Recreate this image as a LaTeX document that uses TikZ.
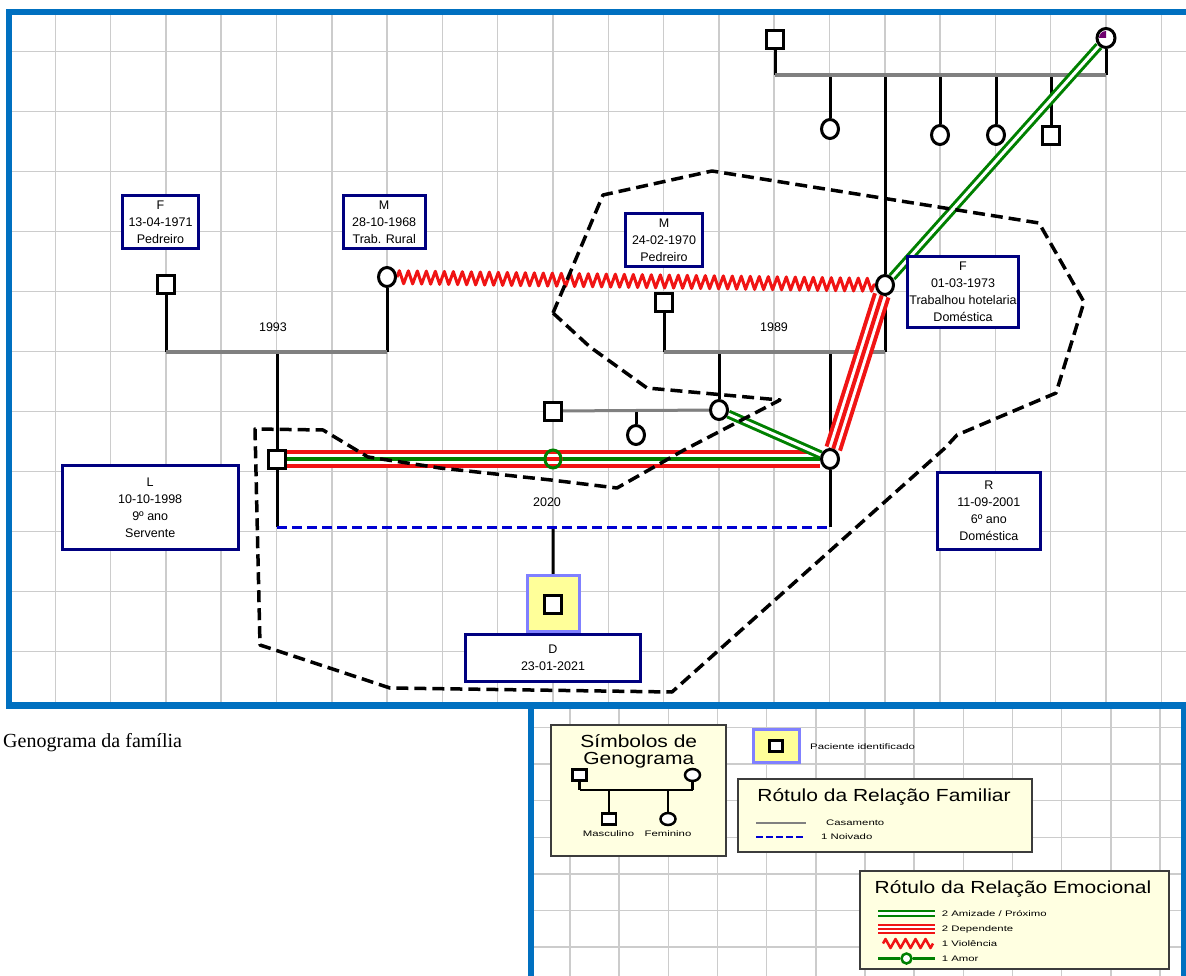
\documentclass[tikz,border=0pt]{standalone}
\usepackage{fontspec}
\setmainfont{Liberation Sans}
\newfontfamily\capfont{Liberation Serif}
\newfontfamily\legtitlefont[FakeStretch=1.2]{Liberation Sans}
\newfontfamily\legsmallfont[FakeStretch=1.42]{Liberation Sans}
\usetikzlibrary{decorations.pathmorphing,shapes.geometric}
\pgfdeclarelayer{gridlayer}
\pgfdeclarelayer{links}
\pgfsetlayers{gridlayer,links,main}
\definecolor{frameblue}{RGB}{0,112,192}
\definecolor{gridgray}{RGB}{204,204,204}
\definecolor{boxnavy}{RGB}{0,0,128}
\definecolor{marrygray}{RGB}{128,128,128}
\definecolor{relred}{RGB}{240,20,20}
\definecolor{relgreen}{RGB}{0,128,0}
\definecolor{engblue}{RGB}{0,0,210}
\definecolor{piyellow}{RGB}{255,255,153}
\definecolor{piborder}{RGB}{128,128,255}
\definecolor{legfill}{RGB}{255,255,225}
\definecolor{legborder}{RGB}{60,60,60}
\definecolor{markpurple}{RGB}{110,0,110}
\tikzset{
  gridline/.style={draw=gridgray, line width=1.5pt},
  frameline/.style={draw=frameblue},
  male/.style={rectangle, draw=black, line width=3pt, fill=white, minimum width=17pt, minimum height=18pt, inner sep=0pt},
  female/.style={ellipse, draw=black, line width=3pt, fill=white, minimum width=17pt, minimum height=19pt, inner sep=0pt},
  infobox/.style={rectangle, draw=boxnavy, line width=3pt, fill=white, inner sep=0pt, align=center, font=\fontsize{12.5}{17}\selectfont},
  yrlabel/.style={font=\fontsize{12.5}{15}\selectfont, inner sep=0pt},
  kin/.style={draw=black, line width=3pt},
  marriage/.style={draw=marrygray, line width=3.5pt},
  engaged/.style={draw=engblue, line width=3pt, dash pattern=on 10pt off 5pt},
  violence/.style={draw=relred, line width=3pt, line join=round, decorate, decoration={zigzag, segment length=9pt, amplitude=6.5pt}},
  dependent/.style={draw=relred, line width=18pt, postaction={draw=white, line width=10pt}, postaction={draw=relred, line width=4pt}},
  friends/.style={draw=relgreen, line width=3pt, double=white, double distance=3pt},
  love/.style={draw=relgreen, line width=4pt},
  lovering/.style={ellipse, draw=relgreen, line width=3pt, minimum width=16pt, minimum height=18pt, inner sep=0pt},
  boundary/.style={draw=black, line width=3.5pt, dash pattern=on 12pt off 6pt, line join=round},
  pibox/.style={rectangle, draw=piborder, line width=3pt, fill=piyellow, inner sep=0pt},
  legbox/.style={rectangle, draw=legborder, line width=1.5pt, fill=legfill, inner sep=0pt},
  legtitle/.style={font=\legtitlefont\fontsize{17.5}{20}\selectfont, inner sep=0pt},
  legtext/.style={font=\legsmallfont\fontsize{8}{10}\selectfont, inner sep=0pt},
  smallmale/.style={rectangle, draw=black, line width=2.5pt, fill=white, minimum width=14pt, minimum height=11pt, inner sep=0pt},
  smallfemale/.style={ellipse, draw=black, line width=2.5pt, fill=white, minimum width=15pt, minimum height=12pt, inner sep=0pt},
  smallkin/.style={draw=black, line width=2.5pt}
}
\begin{document}
\begin{tikzpicture}[x=1pt,y=-1pt]
\useasboundingbox (0,0) rectangle (1186,976);
% ---------- grid and frames ----------
\begin{pgfonlayer}{gridlayer}
  \foreach \k in {1,...,21} \draw[gridline] ({55.3*\k},12) -- ({55.3*\k},705);
  \foreach \j in {0,...,10} \draw[gridline] (9,{51.7+60*\j}) -- (1186,{51.7+60*\j});
  \foreach \m in {0,...,12} \draw[gridline] ({570+49.17*\m},705) -- ({570+49.17*\m},976);
  \foreach \n in {0,...,6} \draw[gridline] (531,{727.5+36.6*\n}) -- (1184,{727.5+36.6*\n});
  \draw[frameline, line width=6pt] (9,708) -- (9,12) -- (1186,12);
  \draw[frameline, line width=7pt] (6,705) -- (1186,705);
  \draw[frameline, line width=6pt] (531,702) -- (531,976);
  \draw[frameline, line width=5pt] (1183.5,702) -- (1183.5,976);
\end{pgfonlayer}

% ---------- caption ----------
\node[anchor=base west, inner sep=0pt, font=\capfont\fontsize{20}{24}\selectfont] (caption) at (3,747) {Genograma da família};

% ---------- info boxes ----------
\node[infobox, minimum width=76pt, minimum height=53pt] (bF) at (160.5,222) {F\\13-04-1971\\Pedreiro};
\node[infobox, minimum width=82pt, minimum height=53pt] (bM) at (384.2,222) {M\\28-10-1968\\Trab. Rural};
\node[infobox, minimum width=77pt, minimum height=53pt] (bM2) at (664,240) {M\\24-02-1970\\Pedreiro};
\node[infobox, minimum width=111pt, minimum height=71pt] (bF2) at (963,292) {F\\01-03-1973\\Trabalhou hotelaria\\Doméstica};
\node[infobox, minimum width=176pt, minimum height=84pt] (bL) at (150.2,507.5) {L\\10-10-1998\\9º ano\\Servente};
\node[infobox, minimum width=103pt, minimum height=77pt] (bR) at (988.8,511) {R\\11-09-2001\\6º ano\\Doméstica};
\node[infobox, minimum width=175pt, minimum height=47pt] (bD) at (553,658) {D\\23-01-2021};
\node[pibox, minimum width=52pt, minimum height=56pt] (piD) at (553.3,603.5) {};

% ---------- persons ----------
\node[male] (pF1) at (166,285) {};
\node[female] (pM1) at (387,277) {};
\node[male] (pM2) at (664,303) {};
\node[female] (pF2) at (885,285) {};
\node[male] (gpa) at (775,40) {};
\node[female, minimum width=18pt, minimum height=19pt] (gma) at (1106,38) {};
\node[female] (s1) at (830,129) {};
\node[female] (s2) at (940,135) {};
\node[female] (s3) at (996,135) {};
\node[male] (s4) at (1051,136) {};
\node[male] (pL) at (277,459) {};
\node[female] (pR) at (830,459) {};
\node[female] (c1) at (719,410) {};
\node[male] (sp1) at (553,411) {};
\node[female] (gc) at (636,435) {};
\node[male] (pD) at (553,604) {};
\fill[markpurple] (1106,38) -- (1099,38) arc[start angle=180, end angle=270, radius=7] -- cycle;

% ---------- year labels ----------
\node[yrlabel] (y1993) at (273,327) {1993};
\node[yrlabel] (y1989) at (774,327) {1989};
\node[yrlabel] (y2020) at (547,502) {2020};

% ---------- junction coordinates ----------
\coordinate (m93a) at (166,352);
\coordinate (m93b) at (387,352);
\coordinate (m93c) at (277,352);
\coordinate (m89a) at (664,352);
\coordinate (m89b) at (885,352);
\coordinate (m89c) at (719,352);
\coordinate (m89d) at (830,352);
\coordinate (mtopa) at (775,75);
\coordinate (mtopb) at (1106,75);
\coordinate (ch1) at (830,75);
\coordinate (ch2) at (885,75);
\coordinate (ch3) at (940,75);
\coordinate (ch4) at (996,75);
\coordinate (ch5) at (1051,75);
\coordinate (msp) at (636,411);
\coordinate (enga) at (277,527);
\coordinate (engb) at (830,527);
\coordinate (engc) at (553,527);

% ---------- connectors ----------
\begin{pgfonlayer}{links}
  % family lines
  \draw[kin] (pF1) -- (m93a);
  \draw[kin] (pM1) -- (m93b);
  \draw[kin] (m93c) -- (pL);
  \draw[kin] (pL) -- (enga);
  \draw[kin] (pM2) -- (m89a);
  \draw[kin] (pF2) -- (m89b);
  \draw[kin] (m89c) -- (c1);
  \draw[kin] (m89d) -- (pR);
  \draw[kin] (pR) -- (engb);
  \draw[kin] (engc) -- (piD);
  \draw[kin] (gpa) -- (mtopa);
  \draw[kin] (gma) -- (mtopb);
  \draw[kin] (ch1) -- (s1);
  \draw[kin] (ch2) -- (pF2);
  \draw[kin] (ch3) -- (s2);
  \draw[kin] (ch4) -- (s3);
  \draw[kin] (ch5) -- (s4);
  \draw[kin] (msp) -- (gc);
  \draw[marriage] (m93a) -- (m93b);
  \draw[marriage] (m89a) -- (m89b);
  \draw[marriage] (mtopa) -- (mtopb);
  \draw[marriage, line width=3pt] (sp1) -- (c1);
  \draw[engaged] (enga) -- (engb);
  % emotional relations
  \draw[violence] (pM1) -- (pF2);
  \draw[dependent] (pL) -- (pR);
  \draw[dependent] (pF2) -- (pR);
  \node[lovering] (amor) at (553,459) {};
  \draw[love] (pL) -- (amor);
  \draw[love] (amor) -- (pR);
  \draw[friends] (c1) -- (pR);
  \draw[friends] (pF2) -- (gma);
\end{pgfonlayer}

% ---------- boundary ----------
\draw[boundary] (553,313) -- (590,347) -- (647,388) -- (780,400) -- (684,450) -- (617,488) -- (551,480) -- (440,468) -- (368,457) -- (323,430) -- (255,429) -- (260,645) -- (390,688) -- (672,692) -- (945,448) -- (957,435) -- (1056,393) -- (1084,302) -- (1039,223) -- (712,171) -- (603,195) -- cycle;

% ---------- legend: symbols ----------
\node[legbox, minimum width=175pt, minimum height=131pt] (symbox) at (638.5,790.5) {};
\node[legtitle] (symt1) at (638.8,741) {Símbolos de};
\node[legtitle] (symt2) at (638.8,760) {Genograma};
\node[smallmale] (lgm) at (579.5,775) {};
\node[smallfemale] (lgf) at (692.5,775) {};
\node[smallmale] (lcm) at (609,819) {};
\node[smallfemale] (lcf) at (668,819) {};
\coordinate (lj1) at (579.5,790);
\coordinate (lj2) at (692.5,790);
\coordinate (lj3) at (609,790);
\coordinate (lj4) at (668,790);
\draw[smallkin] (lgm) -- (lj1);
\draw[smallkin] (lgf) -- (lj2);
\draw[smallkin] (lj1) -- (lj2);
\draw[smallkin] (lj3) -- (lcm);
\draw[smallkin] (lj4) -- (lcf);
\node[legtext] (tmasc) at (608.5,833.5) {Masculino};
\node[legtext] (tfem) at (668,833.5) {Feminino};

% ---------- legend: patient ----------
\node[pibox, minimum width=46pt, minimum height=33pt] (lpi) at (776.4,746) {};
\node[smallmale, line width=3pt, minimum width=13pt, minimum height=11pt] (lpim) at (776.4,746) {};
\node[legtext, anchor=west] (tpi) at (810,746.5) {Paciente identificado};

% ---------- legend: family relations ----------
\node[legbox, minimum width=294pt, minimum height=73pt] (fambox) at (885,815.5) {};
\node[legtitle] (famt) at (884,796.5) {Rótulo da Relação Familiar};
\coordinate (lc1a) at (756,823);
\coordinate (lc1b) at (806,823);
\coordinate (lc2a) at (756,837);
\coordinate (lc2b) at (806,837);
\draw[draw=marrygray, line width=2.5pt] (lc1a) -- (lc1b);
\draw[draw=engblue, line width=2.5pt, dash pattern=on 7pt off 3pt] (lc2a) -- (lc2b);
\node[legtext, anchor=west] (tcas) at (826,823) {Casamento};
\node[legtext, anchor=west] (tnoi) at (821,837) {1 Noivado};

% ---------- legend: emotional relations ----------
\node[legbox, minimum width=309pt, minimum height=98pt] (emobox) at (1014.5,920) {};
\node[legtitle] (emot) at (1013,888.5) {Rótulo da Relação Emocional};
\coordinate (le1a) at (878,913.5);
\coordinate (le1b) at (935,913.5);
\coordinate (le2a) at (878,929);
\coordinate (le2b) at (935,929);
\coordinate (le3a) at (883,943.5);
\coordinate (le3b) at (933,943.5);
\coordinate (le4a) at (878,958.5);
\coordinate (le4b) at (935,958.5);
\draw[draw=relgreen, line width=2.2pt, double=white, double distance=2.5pt] (le1a) -- (le1b);
\draw[draw=relred, line width=10pt, postaction={draw=white, line width=6pt}, postaction={draw=relred, line width=2pt}] (le2a) -- (le2b);
\draw[draw=relred, line width=2.5pt, line join=round, decorate, decoration={zigzag, segment length=10pt, amplitude=4.5pt}] (le3a) -- (le3b);
\node[ellipse, draw=relgreen, line width=2.5pt, fill=white, minimum width=10pt, minimum height=10pt, inner sep=0pt] (lamor) at (906.5,958.5) {};
\draw[draw=relgreen, line width=2.5pt] (le4a) -- (lamor);
\draw[draw=relgreen, line width=2.5pt] (lamor) -- (le4b);
\node[legtext, anchor=west] (tami) at (941.7,913.5) {2 Amizade / Próximo};
\node[legtext, anchor=west] (tdep) at (941.7,929) {2 Dependente};
\node[legtext, anchor=west] (tvio) at (941.7,943.5) {1 Violência};
\node[legtext, anchor=west] (tamo) at (941.7,958.5) {1 Amor};
\end{tikzpicture}
\end{document}
